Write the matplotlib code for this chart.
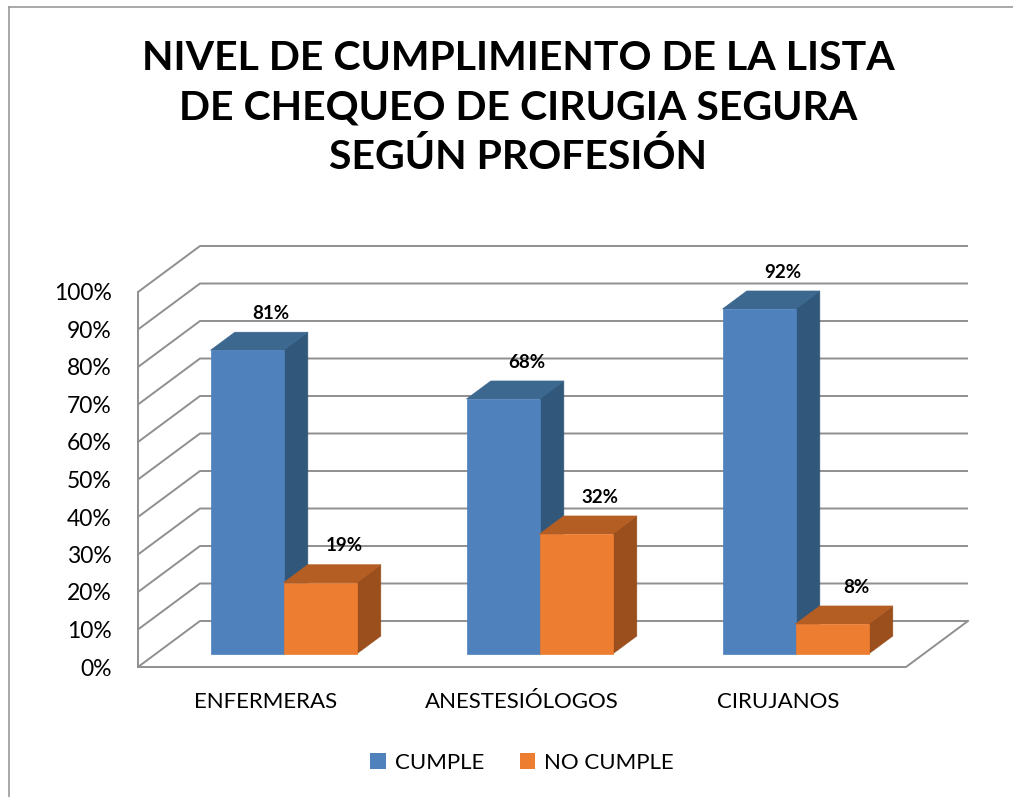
import matplotlib.pyplot as plt
from matplotlib.patches import Polygon, Patch

plt.rcParams['font.family'] = ['Lato', 'DejaVu Sans']

# data
categories = ["ENFERMERAS", "ANESTESIÓLOGOS", "CIRUJANOS"]
cumple = [81, 68, 92]
no_cumple = [19, 32, 8]
series_names = ["CUMPLE", "NO CUMPLE"]
yticks = list(range(0, 101, 10))
title_lines = ["NIVEL DE CUMPLIMIENTO DE LA LISTA",
               "DE CHEQUEO DE CIRUGIA SEGURA",
               "SEGÚN PROFESIÓN"]

# colours: front, top, side
blue = ("#4f81bd", "#3c6890", "#31587a")
orange = ("#ed7d31", "#b55e24", "#9a4f1d")
grid_c = "#8f8f8f"

W, H = 1013, 797
fig = plt.figure(figsize=(W / 100, H / 100), dpi=100)

# front plane of the 3d box, in pixels
left, right, bottom, top = 138, 906, 667, 292
ax = fig.add_axes([left / W, (H - bottom) / H, (right - left) / W, (bottom - top) / H])
ax.set_xlim(0, 3)
ax.set_ylim(0, 100)

# depth vector in data units (oblique projection)
DX = 62 / 256
DY = 46 / 3.75
d0, d1 = 0.283, 0.674   # bars sit between these depth fractions
bw = 0.285

# walls
for v in yticks:
    ax.plot([0, DX, 3 + DX], [v, v + DY, v + DY], color=grid_c, lw=1.4,
            clip_on=False, zorder=1, solid_capstyle='butt')
ax.plot([0, 0], [0, 100], color=grid_c, lw=1.4, clip_on=False, zorder=1)
ax.plot([0, 3, 3 + DX], [0, 0, DY], color=grid_c, lw=1.4, clip_on=False, zorder=1)


def bar3d(x0, val, cols):
    bx, by = x0 + d0 * DX, d0 * DY
    ex, ey = (d1 - d0) * DX, (d1 - d0) * DY
    x1 = bx + bw
    t = by + val
    front = [(bx, by), (x1, by), (x1, t), (bx, t)]
    topf = [(bx, t), (x1, t), (x1 + ex, t + ey), (bx + ex, t + ey)]
    side = [(x1, by), (x1 + ex, by + ey), (x1 + ex, t + ey), (x1, t)]
    for pts, c in ((side, cols[2]), (topf, cols[1]), (front, cols[0])):
        ax.add_patch(Polygon(pts, closed=True, facecolor=c, edgecolor=c,
                             lw=0.5, zorder=3, clip_on=False))
    ax.text(bx + bw / 2 + ex, t + ey + 5, f"{val}%", ha='center',
            va='center', fontsize=13.5, fontweight='bold', zorder=5)


for i in range(len(categories)):
    c = i + 0.5
    bar3d(c - bw, cumple[i], blue)
    bar3d(c, no_cumple[i], orange)

ax.set_yticks(yticks)
ax.set_yticklabels([f"{v}%" for v in yticks], fontsize=16.5)
ax.set_xticks([i + 0.5 for i in range(len(categories))])
ax.set_xticklabels(categories, fontsize=16)
ax.tick_params(axis='y', length=0, pad=19)
ax.tick_params(axis='x', length=0, pad=18)
for s in ax.spines.values():
    s.set_visible(False)
ax.patch.set_alpha(0)

# title
for k, line in enumerate(title_lines):
    fig.text(518 / W, 1 - (59 + 49 * k) / H, line, ha='center', va='center',
             fontsize=29.5, fontweight='bold')

# legend
handles = [Patch(facecolor=blue[0]), Patch(facecolor=orange[0])]
fig.legend(handles, series_names, loc='center', bbox_to_anchor=(522 / W, 1 - 763 / H),
           ncol=2, frameon=False, fontsize=16, handlelength=0.7, handleheight=0.7,
           handletextpad=0.4, columnspacing=1.6)

# chart border (left and top)
fig.add_artist(plt.Line2D([8.5 / W, 8.5 / W], [0, 1 - 6.5 / H], color="#9a9a9a", lw=1.2))
fig.add_artist(plt.Line2D([8.5 / W, 1], [1 - 6.5 / H, 1 - 6.5 / H], color="#9a9a9a", lw=1.2))

fig.savefig("out.png", dpi=100)
